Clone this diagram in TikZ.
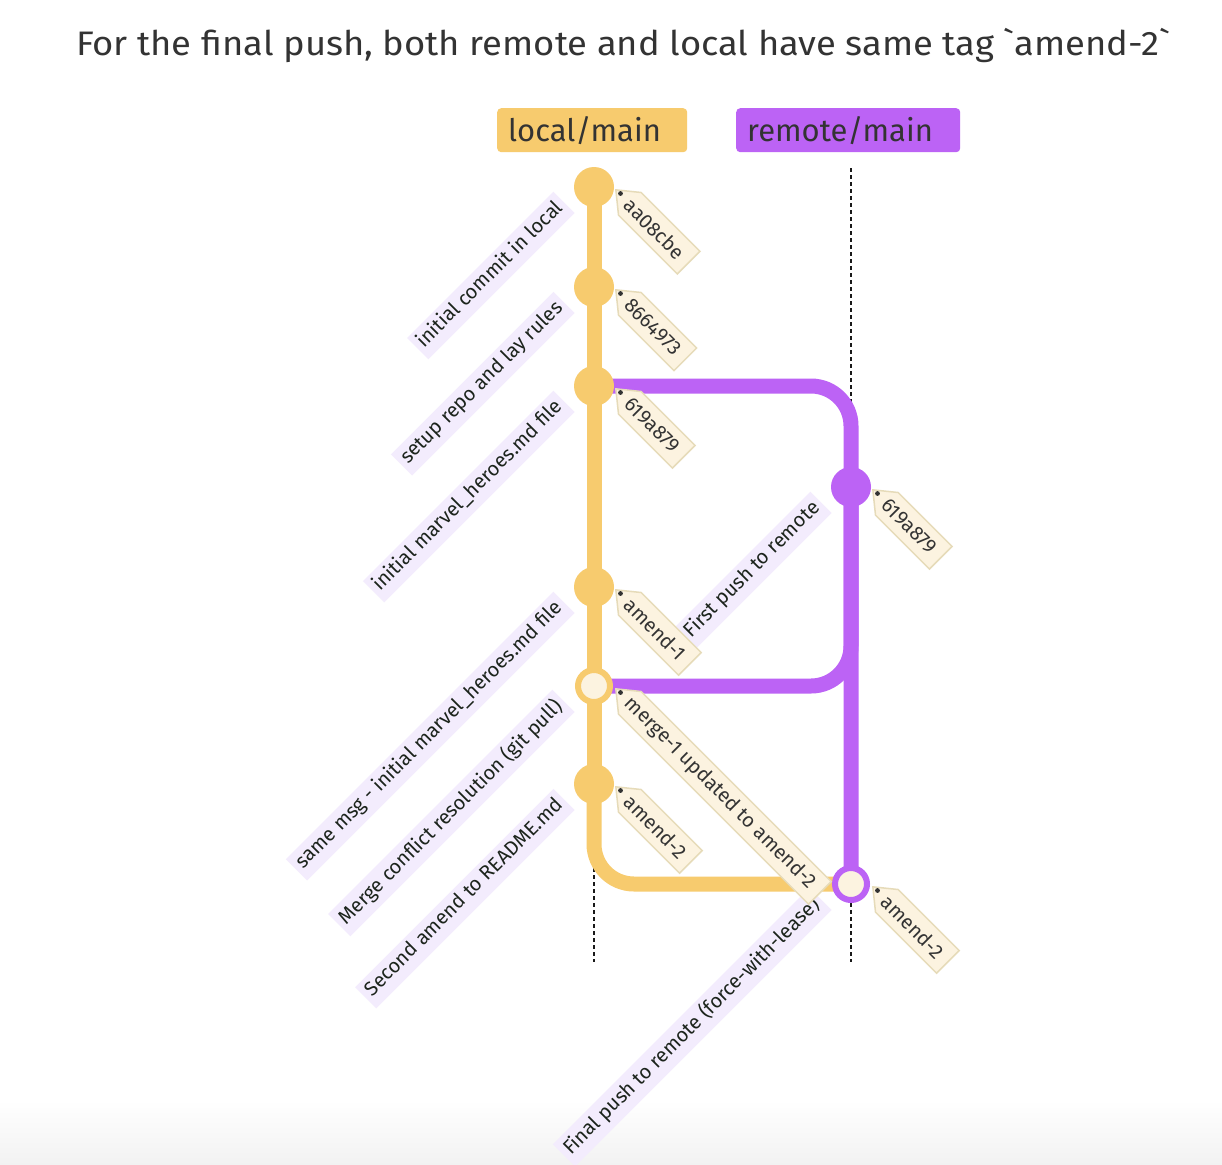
\documentclass[tikz,border=0pt]{standalone}
\usepackage{fontspec}
\newfontfamily\ff{Fira Sans}
\newfontfamily\ffwide{Fira Sans}[FakeStretch=1.07]
\usetikzlibrary{calc,shapes.symbols}
\definecolor{ylw}{RGB}{247,203,110}
\definecolor{prp}{RGB}{188,99,245}
\definecolor{cream}{RGB}{252,243,224}
\definecolor{tagborder}{RGB}{230,219,185}
\definecolor{lav}{RGB}{243,236,253}
\definecolor{txt}{RGB}{51,51,51}
\definecolor{lbltxt}{RGB}{28,36,28}
\tikzset{
  commitfill/.style={circle, minimum size=40pt, inner sep=0pt, fill=#1},
  commithollow/.style={circle, minimum size=32pt, inner sep=0pt, fill=cream, draw=#1, line width=6pt},
  yline/.style={draw=ylw, line width=15pt},
  pline/.style={draw=prp, line width=15pt},
  branchline/.style={draw=black!90, line width=2pt, dash pattern=on 4pt off 3pt},
  branchlabel/.style={rounded corners=4pt, minimum height=44pt, inner xsep=11pt, anchor=north west, text=txt, font=\ff\fontsize{31}{36}\selectfont},
  commitlabel/.style={fill=lav, text=lbltxt, font=\ff\fontsize{20}{22}\selectfont, inner xsep=5pt, inner ysep=4pt, rotate=45, anchor=south east},
  tagnode/.style={shape=signal, signal to=west, signal pointer angle=78, fill=cream, draw=tagborder, line width=1.5pt, minimum height=32pt, inner xsep=5pt, inner ysep=0pt, text=txt, font=\ff\fontsize{20}{22}\selectfont, rotate=-45, anchor=west}
}
\newcommand\gtag[3]{% #1 commit node, #2 text, #3 name
  \node[tagnode] (#3) at ($(#1.center)+(21,-2)$) {\hspace*{-8pt}#2\hspace*{5pt}};
  \fill[black!80] ($(#1.center)+(26.5,-6.5)$) circle (2.4pt);}
\newcommand\glabel[3]{% #1 commit node, #2 text, #3 name
  \node[commitlabel] (#3) at ($(#1.center)+(-19,-26)$) {\strut #2};}
\begin{document}
\begin{tikzpicture}[x=1pt,y=1pt]
\useasboundingbox (0,0) rectangle (1222,-1164);
\fill[white] (0,0) rectangle (1222,-1164);
\shade[top color=white, bottom color=black!5] (0,-1100) rectangle (1222,-1164);

% title
\node[text=txt, font=\ffwide\fontsize{34}{40}\selectfont] (title) at (623,-46) {For the final push, both remote and local have same tag `amend-2`};

% branch labels
\node[branchlabel, fill=ylw, text width=168pt] (lmain) at (497,-108) {local/main};
\node[branchlabel, fill=prp, text width=202pt] (rmain) at (736,-108) {remote/main};

% branch dotted lines
\coordinate (ltop) at (594,-168);
\coordinate (lbot) at (594,-962);
\coordinate (rtop) at (851,-168);
\coordinate (rbot) at (851,-962);
\draw[branchline] (ltop) -- (lbot);
\draw[branchline] (rtop) -- (rbot);

% commit positions
\coordinate (p1) at (594,-187);
\coordinate (p2) at (594,-287);
\coordinate (p3) at (594,-386);
\coordinate (p4) at (594,-587);
\coordinate (p5) at (594,-686);
\coordinate (p6) at (594,-784);
\coordinate (q1) at (851,-487);
\coordinate (q2) at (851,-884);

% connectors
\draw[yline] (p1) -- (p6);
\draw[yline, rounded corners=40pt] (p6) |- (q2);
\draw[pline, rounded corners=40pt] (p3) -| (q2);
\draw[pline, rounded corners=40pt] (q1) |- (p5);

% commits
\node[commitfill=ylw] (c1) at (p1) {};
\node[commitfill=ylw] (c2) at (p2) {};
\node[commitfill=ylw] (c3) at (p3) {};
\node[commitfill=ylw] (c4) at (p4) {};
\node[commithollow=ylw] (c5) at (p5) {};
\node[commitfill=ylw] (c6) at (p6) {};
\node[commitfill=prp] (r1) at (q1) {};
\node[commithollow=prp] (r2) at (q2) {};

% commit messages
\glabel{c1}{initial commit in local}{m1}
\glabel{c2}{setup repo and lay rules}{m2}
\glabel{c3}{initial marvel\_heroes.md file}{m3}
\glabel{c4}{same msg - initial marvel\_heroes.md file}{m4}
\glabel{c5}{Merge conflict resolution (git pull)}{m5}
\glabel{c6}{Second amend to README.md}{m6}
\glabel{r1}{First push to remote}{m7}
\glabel{r2}{Final push to remote (force-with-lease)}{m8}

% tags
\gtag{c1}{aa08cbe}{t1}
\gtag{c2}{8664973}{t2}
\gtag{c3}{619a879}{t3}
\gtag{c4}{amend-1}{t4}
\gtag{c5}{merge-1 updated to amend-2}{t5}
\gtag{c6}{amend-2}{t6}
\gtag{r1}{619a879}{t7}
\gtag{r2}{amend-2}{t8}
\end{tikzpicture}
\end{document}
